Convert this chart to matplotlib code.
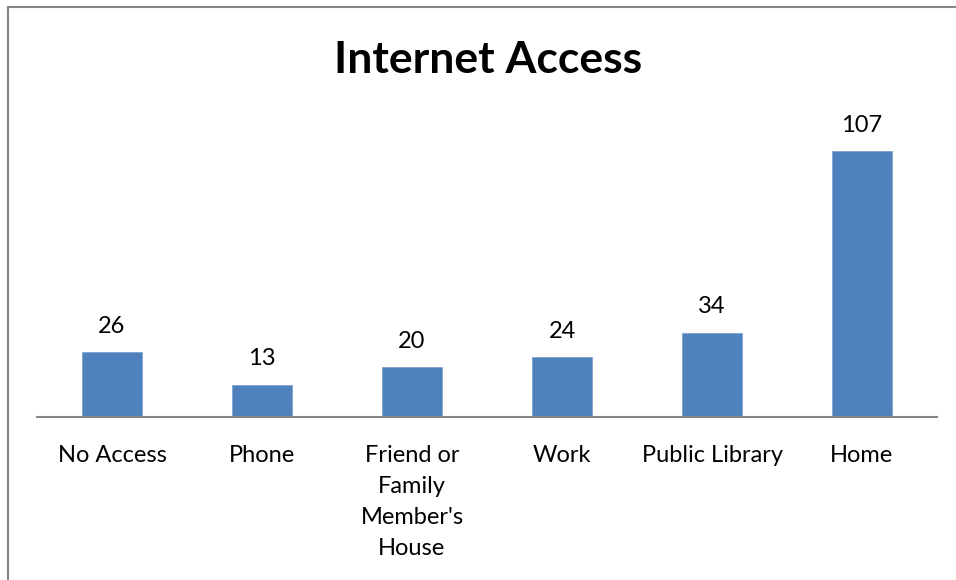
import matplotlib
matplotlib.use("Agg")
import matplotlib.pyplot as plt
from matplotlib.lines import Line2D

categories = ["No Access", "Phone", "Friend or\nFamily\nMember's\nHouse", "Work", "Public Library", "Home"]
values = [26, 13, 20, 24, 34, 107]

plt.rcParams["font.family"] = ["Lato", "DejaVu Sans"]

W, H = 956, 580
fig = plt.figure(figsize=(W / 100, H / 100), dpi=100)
ax = fig.add_axes([37 / W, (H - 417) / H, 900 / W, 298 / H])

x = range(len(values))
bars = ax.bar(x, values, width=0.4, color="#4F81BD", edgecolor="#7FA3D3", linewidth=0.6)
ax.set_xlim(-0.5, len(values) - 0.5)
ax.set_ylim(0, 120)

for b, v in zip(bars, values):
    ax.annotate(str(v), (b.get_x() + b.get_width() / 2, v), xytext=(0, 11),
                textcoords="offset points", ha="center", va="bottom", fontsize=17, color="black")

ax.set_xticks(list(x))
ax.set_xticklabels(categories, fontsize=17, linespacing=1.6, va="top")
ax.tick_params(axis="x", length=0, pad=20)
ax.set_yticks([])
for s in ("top", "right", "left"):
    ax.spines[s].set_visible(False)
ax.spines["bottom"].set_color("#868686")
ax.spines["bottom"].set_linewidth(1.5)

fig.text(488 / W, 1 - 60 / H, "Internet Access", ha="center", va="center",
         fontsize=32, fontweight="bold")

# chart border (only left and top are inside the crop)
fig.add_artist(Line2D([8 / W, 8 / W], [0, 1 - 7 / H], color="#868686", lw=1.5, transform=fig.transFigure))
fig.add_artist(Line2D([8 / W, 1], [1 - 7 / H, 1 - 7 / H], color="#868686", lw=1.5, transform=fig.transFigure))

fig.savefig("out.png", dpi=100)
